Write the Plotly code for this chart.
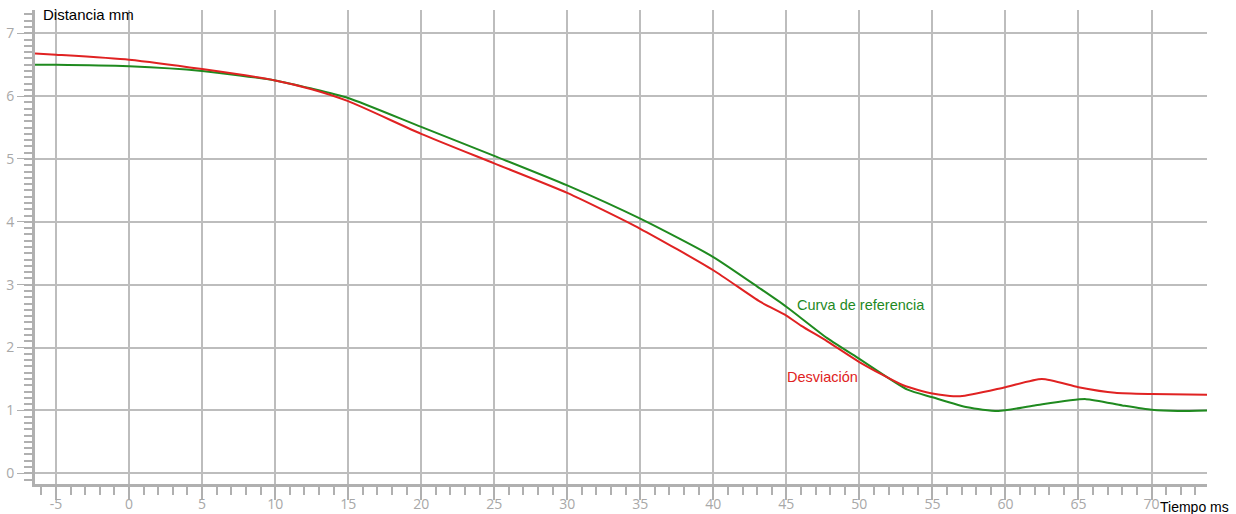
import plotly.graph_objects as go

# Reference curve (green)
ref_t = [-6.44, -5, 0, 5, 10, 12.5, 15, 20, 25, 30, 35, 40, 43.2, 45, 47.8, 50, 53.3, 55, 57.4, 59.5, 62, 65.5, 68, 70, 71.8, 73.8]
ref_d = [6.50, 6.50, 6.475, 6.40, 6.25, 6.12, 5.97, 5.51, 5.05, 4.58, 4.05, 3.44, 2.94, 2.65, 2.15, 1.82, 1.33, 1.21, 1.05, 0.99, 1.08, 1.18, 1.08, 1.01, 0.99, 1.00]

# Deviation curve (red)
dev_t = [-6.44, -5, 0, 5, 10, 12.5, 15, 20, 25, 30, 35, 40, 43.2, 45, 46, 47.8, 50, 53, 55, 56.9, 60, 62.5, 65, 67.5, 70, 73.8]
dev_d = [6.68, 6.66, 6.58, 6.43, 6.25, 6.11, 5.92, 5.40, 4.93, 4.46, 3.89, 3.23, 2.73, 2.51, 2.35, 2.10, 1.77, 1.40, 1.27, 1.225, 1.37, 1.50, 1.37, 1.28, 1.26, 1.25]

x_ticks = list(range(-5, 71, 5))
y_ticks = list(range(0, 8))

GREEN = "#1f8a1f"
RED = "#e02222"
GRID = "#bdbdbd"
AXIS = "#b0b0b0"
TICKFONT = dict(family="Open Sans", size=14, color="#a8a8a8")

fig = go.Figure()
fig.add_trace(go.Scatter(x=ref_t, y=ref_d, mode="lines", name="Curva de referencia",
                         line=dict(color=GREEN, width=2, shape="spline", smoothing=0.6)))
fig.add_trace(go.Scatter(x=dev_t, y=dev_d, mode="lines", name="Desviación",
                         line=dict(color=RED, width=2, shape="spline", smoothing=0.6)))

fig.update_layout(
    width=1236, height=514,
    margin=dict(l=35, r=29, t=10, b=30),
    paper_bgcolor="white", plot_bgcolor="white",
    showlegend=False,
    xaxis=dict(range=[-6.44, 73.8], tickmode="array", tickvals=x_ticks,
               ticktext=[str(v) for v in x_ticks], automargin=False,
               showgrid=True, gridcolor=GRID, gridwidth=2,
               showline=True, linecolor=AXIS, linewidth=3,
               ticks="outside", ticklen=13, tickwidth=2, tickcolor=AXIS,
               tickfont=TICKFONT, zeroline=False, ticklabelstandoff=-8,
               minor=dict(dtick=1, tick0=0, ticks="outside", ticklen=8, tickwidth=2,
                          tickcolor=AXIS, showgrid=False)),
    yaxis=dict(range=[-0.17, 7.37], tickmode="array", tickvals=y_ticks,
               ticktext=[str(v) for v in y_ticks], automargin=False,
               showgrid=True, gridcolor=GRID, gridwidth=2,
               showline=True, linecolor=AXIS, linewidth=3,
               ticks="outside", ticklen=15, tickwidth=1, tickcolor=AXIS,
               tickfont=TICKFONT, zeroline=False,
               minor=dict(dtick=0.1, tick0=0, ticks="outside", ticklen=8, tickwidth=2,
                          tickcolor=AXIS, showgrid=False)),
    annotations=[
        dict(text="Distancia mm", xref="paper", yref="paper", x=0.005, y=0.99,
             xanchor="left", yanchor="middle", showarrow=False,
             font=dict(family="Liberation Sans", size=15, color="black")),
        dict(text="Tiempo ms", xref="paper", yref="paper", x=0.958, y=-0.048,
             xanchor="left", yanchor="middle", showarrow=False,
             font=dict(family="Liberation Sans", size=14, color="black")),
        dict(text="Curva de referencia", xref="x", yref="y", x=45.6, y=2.67,
             xanchor="left", yanchor="middle", showarrow=False,
             font=dict(family="Liberation Sans", size=14.5, color=GREEN)),
        dict(text="Desviación", xref="x", yref="y", x=44.9, y=1.53,
             xanchor="left", yanchor="middle", showarrow=False,
             font=dict(family="Liberation Sans", size=14.5, color=RED)),
    ],
)

fig.write_html(
    "out.html",
    config={"displayModeBar": False},
    post_script="document.body.style.margin='0';document.body.style.overflow='hidden';",
)
